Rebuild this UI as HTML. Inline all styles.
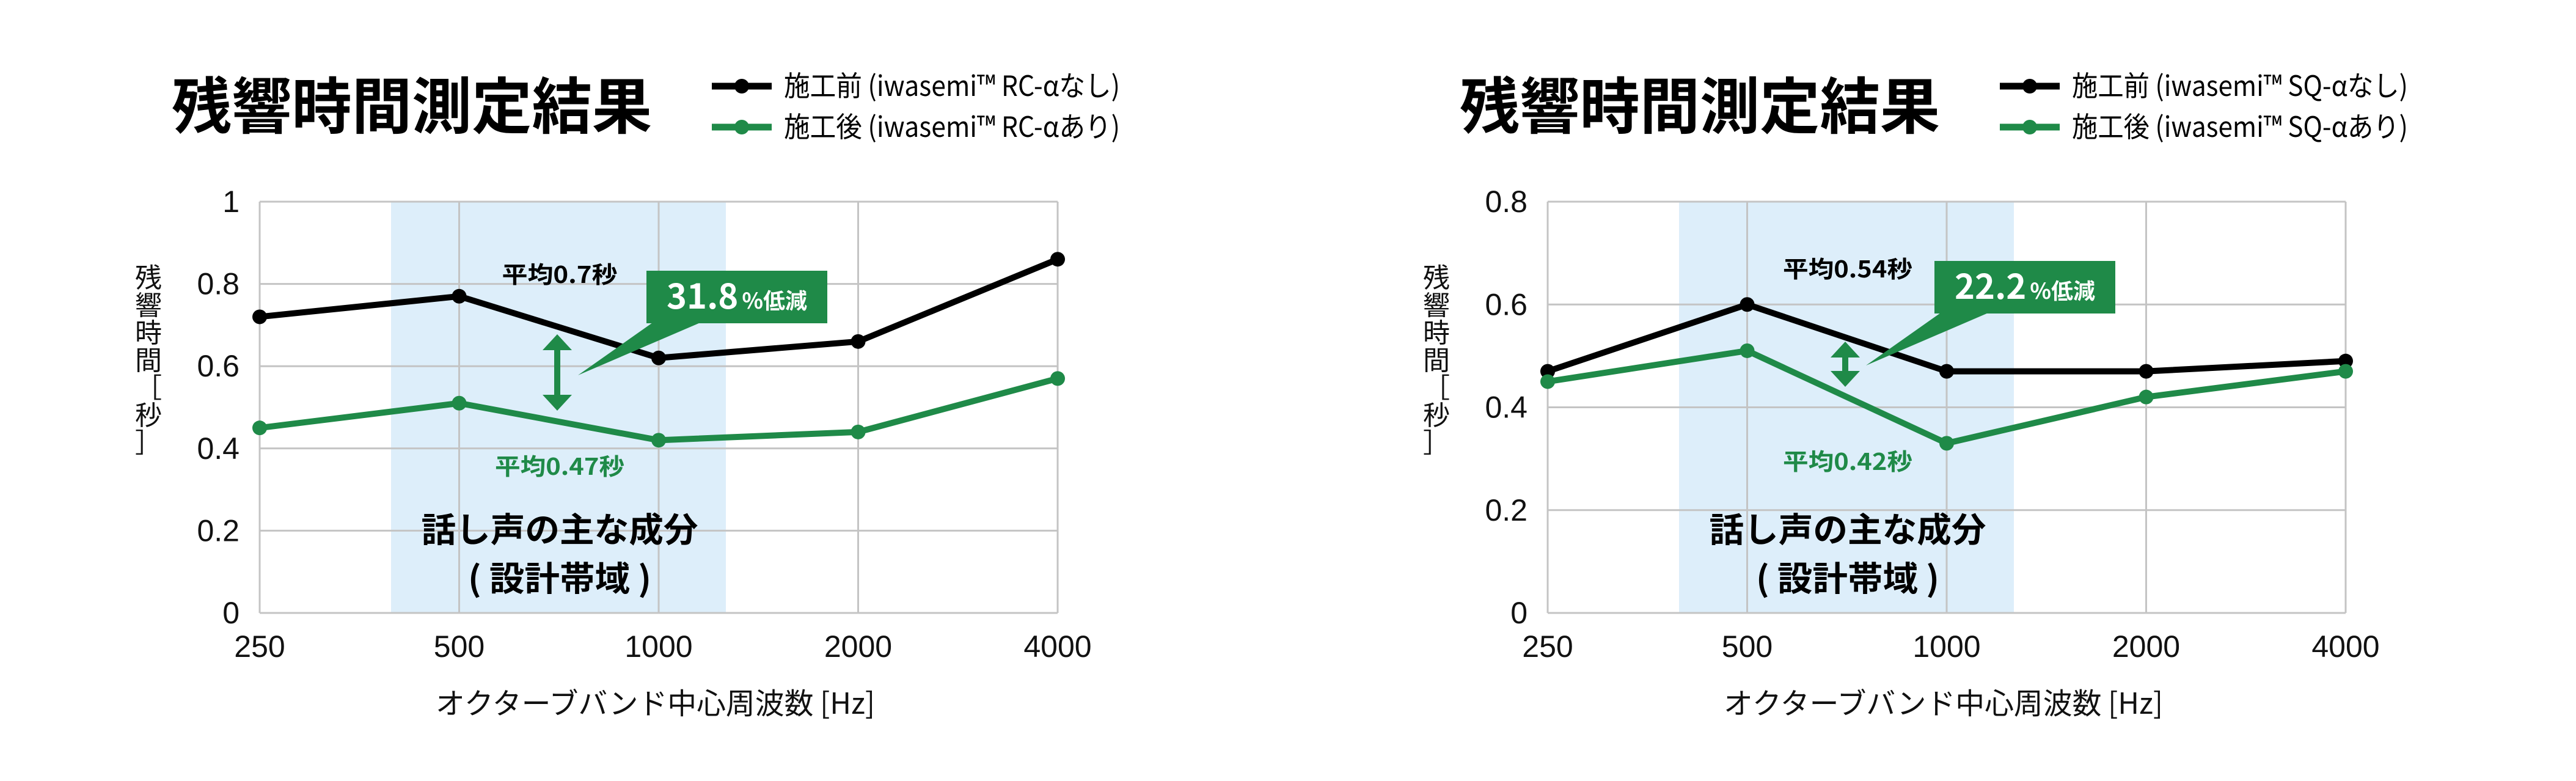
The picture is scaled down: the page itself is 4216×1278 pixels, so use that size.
<!DOCTYPE html>
<html><head><meta charset="utf-8">
<style>
html,body{margin:0;padding:0;background:#fff;}
svg{display:block;font-family:"Liberation Sans","Noto Sans CJK JP",sans-serif;}
.jp{font-family:"Noto Sans CJK JP","Liberation Sans",sans-serif;}
</style></head>
<body>
<svg id="root" width="4216" height="1278" viewBox="0 0 4216 1278" xmlns="http://www.w3.org/2000/svg">
<g id="c0"></g>
<g id="c1" transform="translate(2108,0)"></g>
</svg>
<script>
const categories = ["250","500","1000","2000","4000"];
const rcBefore = [0.72,0.77,0.62,0.66,0.86];
const rcAfter = [0.45,0.51,0.42,0.44,0.57];
const sqBefore = [0.47,0.60,0.47,0.47,0.49];
const sqAfter = [0.45,0.51,0.33,0.42,0.47];
const rcTicks = ["0","0.2","0.4","0.6","0.8","1"];
const sqTicks = ["0","0.2","0.4","0.6","0.8"];
const rcMax = 1.0;
const sqMax = 0.8;
const rcAvg = ["平均0.7秒","平均0.47秒"];
const sqAvg = ["平均0.54秒","平均0.42秒"];
const rcReduction = "31.8";
const sqReduction = "22.2";

const NS="http://www.w3.org/2000/svg";
const GREEN="#1f8a48", GRID="#c4c4c4";
const L=425,R=1731,T=330,B=1003;
function mk(p,tag,attrs){const e=document.createElementNS(NS,tag);for(const k in attrs)e.setAttribute(k,attrs[k]);p.appendChild(e);return e;}

function build(g,cfg){
  const n=categories.length;
  const xS=i=>L+(R-L)*i/(n-1);
  const yS=v=>B-(B-T)*v/cfg.max;
  // title
  let t=mk(g,"text",{x:281,y:210,"font-size":100,"font-weight":"bold",class:"jp",textLength:786,lengthAdjust:"spacingAndGlyphs"});
  t.textContent="残響時間測定結果";
  
  
  // legend
  const lg=[[cfg.l1,"#000",141],[cfg.l2,GREEN,208]];
  lg.forEach((d,i)=>{
    const ge=mk(g,"g",{});
    
    
    mk(ge,"line",{x1:1165,x2:1263,y1:d[2],y2:d[2],stroke:d[1],"stroke-width":11});
    mk(ge,"circle",{cx:1214,cy:d[2],r:12,fill:d[1]});
    const tx=mk(ge,"text",{x:1283,y:d[2]+16,"font-size":46,class:"jp",textLength:550,lengthAdjust:"spacingAndGlyphs"});
    tx.textContent=d[0];
  });
  // band
  let band=mk(g,"rect",{x:640,y:T,width:1188-640,height:B-T,fill:"#ddeefa"});
  
  
  // grid
  cfg.ticks.forEach((lab,i)=>{
    const v=cfg.max*i/(cfg.ticks.length-1);
    const ln=mk(g,"line",{x1:L,x2:R,y1:yS(v),y2:yS(v),stroke:GRID,"stroke-width":3});
    
    
    const tx=mk(g,"text",{x:392,y:yS(v)+17,"font-size":50,"text-anchor":"end",fill:"#111"});
    tx.textContent=lab;
    
    
  });
  categories.forEach((c,i)=>{
    const ln=mk(g,"line",{x1:xS(i),x2:xS(i),y1:T,y2:B,stroke:GRID,"stroke-width":3});
    
    
    const tx=mk(g,"text",{x:xS(i),y:1075,"font-size":50,"text-anchor":"middle",fill:"#111"});
    tx.textContent=c;
    
    
  });
  // axis titles
  let xt=mk(g,"text",{x:713,y:1168,"font-size":48,class:"jp",textLength:719,lengthAdjust:"spacingAndGlyphs",fill:"#111"});
  xt.textContent="オクターブバンド中心周波数 [Hz]";
  
  
  const yt=mk(g,"g",{});
  
  
  ["残","響","時","間","［","秒","］"].forEach((ch,i)=>{
    const tx=mk(yt,"text",{x:243,y:470+i*45,"font-size":44,"text-anchor":"middle",class:"jp",fill:"#111"});
    tx.textContent=ch;
  });
  // band text
  let b1=mk(g,"text",{x:916,y:887,"font-size":56,"font-weight":"bold","text-anchor":"middle",class:"jp",textLength:453,lengthAdjust:"spacingAndGlyphs"});
  b1.textContent="話し声の主な成分";
  
  
  let b2=mk(g,"text",{x:916,y:967,"font-size":56,"font-weight":"bold","text-anchor":"middle",class:"jp",textLength:300,lengthAdjust:"spacingAndGlyphs"});
  b2.textContent="( 設計帯域 )";
  
  
  // series
  [[cfg.before,"#000","series-before"],[cfg.after,GREEN,"series-after"]].forEach(s=>{
    const sg=mk(g,"g",{});
    
    
    mk(sg,"polyline",{points:s[0].map((v,i)=>xS(i)+","+yS(v)).join(" "),fill:"none",stroke:s[1],"stroke-width":10,"stroke-linejoin":"round"});
    s[0].forEach((v,i)=>{
      const c=mk(sg,"circle",{cx:xS(i),cy:yS(v),r:12,fill:s[1]});
      
      
    });
  });
  // averages
  let a1=mk(g,"text",{x:916,y:cfg.ay1+14,"font-size":38,"font-weight":"bold","text-anchor":"middle",class:"jp",textLength:cfg.aw1,lengthAdjust:"spacingAndGlyphs"});
  a1.textContent=cfg.avg[0];
  
  
  let a2=mk(g,"text",{x:916,y:cfg.ay2+14,"font-size":38,"font-weight":"bold","text-anchor":"middle",class:"jp",fill:GREEN,textLength:212,lengthAdjust:"spacingAndGlyphs"});
  a2.textContent=cfg.avg[1];
  
  
  // arrow
  const ar=mk(g,"g",{fill:GREEN});
  
  
  const y0=cfg.arr[0],y1=cfg.arr[1];
  mk(ar,"rect",{x:907,y:y0+20,width:10,height:y1-y0-40});
  mk(ar,"polygon",{points:`912,${y0} 936,${y0+26} 888,${y0+26}`});
  mk(ar,"polygon",{points:`912,${y1} 936,${y1-26} 888,${y1-26}`});
  // callout
  const co=mk(g,"g",{});
  
  
  mk(co,"rect",{x:1058,y:cfg.box[0],width:296,height:cfg.box[1]-cfg.box[0],fill:GREEN});
  mk(co,"polygon",{points:`1068,${cfg.box[1]-1} 1146,${cfg.box[1]-1} 946,${cfg.tip}`,fill:GREEN});
  const ct=mk(co,"text",{x:1206,y:cfg.box[0]+62,"font-size":56,"font-weight":"bold","text-anchor":"middle",fill:"#fff",class:"jp"});
  const s1=mk(ct,"tspan",{});s1.textContent=cfg.red;
  const s2=mk(ct,"tspan",{"font-size":36,dx:6});s2.textContent="%低減";
}
build(document.getElementById("c0"),{max:rcMax,ticks:rcTicks,before:rcBefore,after:rcAfter,avg:rcAvg,red:rcReduction,
  l1:"施工前 (iwasemi™ RC-αなし)",l2:"施工後 (iwasemi™ RC-αあり)",ay1:449,ay2:763,aw1:189,arr:[547,672],box:[443,529],tip:614});
build(document.getElementById("c1"),{max:sqMax,ticks:sqTicks,before:sqBefore,after:sqAfter,avg:sqAvg,red:sqReduction,
  l1:"施工前 (iwasemi™ SQ-αなし)",l2:"施工後 (iwasemi™ SQ-αあり)",ay1:440,ay2:755,aw1:212,arr:[559,633],box:[427,513],tip:598});
</script>
</body></html>
